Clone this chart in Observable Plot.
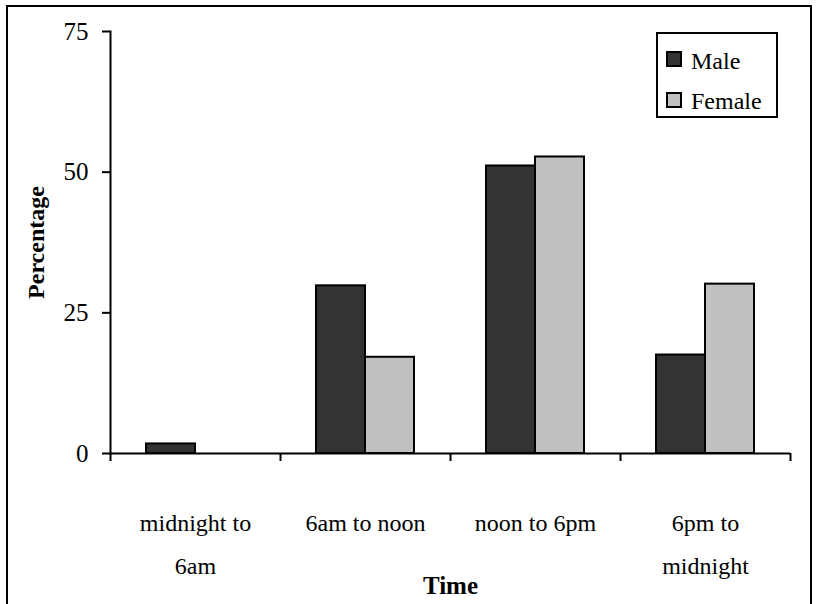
<!DOCTYPE html>
<html><head><meta charset="utf-8">
<script src="https://cdn.jsdelivr.net/npm/d3@7"></script>
<script src="https://cdn.jsdelivr.net/npm/@observablehq/plot@0.6"></script>
<style>
body{margin:0;background:#fff;}
#wrap{position:relative;width:817px;height:604px;overflow:hidden;font-family:"Liberation Serif","Times New Roman",serif;}
#border{position:absolute;left:6px;top:5px;width:802px;height:700px;border:2px solid #000;border-bottom:none;}
#chart{position:absolute;left:0;top:0;}
#legend{position:absolute;left:656px;top:32px;width:118px;height:82px;border:2px solid #000;background:#fff;box-sizing:content-box;}
.sw{position:absolute;width:16px;height:16px;box-sizing:border-box;border:2px solid #000;}
.lt{position:absolute;font-size:24px;line-height:24px;color:#000;white-space:nowrap;}
</style></head>
<body><div id="wrap"><div id="border"></div><div id="chart"></div><div id="legend"></div></div>
<script>
const times = ["midnight to 6am", "6am to noon", "noon to 6pm", "6pm to midnight"];
const timeLabels = ["midnight to\n6am", "6am to noon", "noon to 6pm", "6pm to\nmidnight"];
const series = ["Male", "Female"];
const maleValues = [1.7, 29.8, 51.1, 17.5];
const femaleValues = [0, 17.1, 52.7, 30.1];
const seriesColors = ["#333333", "#c0c0c0"];
const yTicks = [0, 25, 50, 75];

const data = times.flatMap((t, i) => [
  {time: t, sex: "Male", value: maleValues[i]},
  {time: t, sex: "Female", value: femaleValues[i]}
]);

const W = 817, H = 604, mL = 110, mR = 27, mT = 31, mB = 151;
const bw = (W - mL - mR) / times.length;
const font = "'Liberation Serif', 'Times New Roman', serif";

const chart = Plot.plot({
  width: W, height: H,
  marginLeft: mL, marginRight: mR, marginTop: mT, marginBottom: mB,
  style: {fontFamily: font, fontSize: "24px", color: "#000", background: "transparent"},
  fx: {domain: times, padding: 0, label: null},
  x: {domain: series, paddingInner: 0, paddingOuter: 0.73, axis: null},
  y: {domain: [0, 75], label: null},
  color: {domain: series, range: seriesColors},
  marks: [
    Plot.barY(data, {fx: "time", x: "sex", y: "value", fill: "sex", stroke: "#000", strokeWidth: 2}),
    Plot.ruleY([0], {stroke: "#000", strokeWidth: 2}),
    Plot.frame({anchor: "left", facetAnchor: "left", stroke: "#000", strokeWidth: 2}),
    Plot.axisY({ticks: yTicks, tickSize: 8, tickPadding: 14, strokeWidth: 2, fontSize: 25, label: null}),
    Plot.axisY({ticks: [], label: "Percentage", labelArrow: "none", labelAnchor: "center", labelOffset: 84, dy: -7, fontWeight: "bold", fontSize: 24}),
    Plot.axisFx({anchor: "bottom", tickSize: 8, tickFormat: () => "", dx: -bw / 2, strokeWidth: 2, label: null}),
    Plot.axisFx({anchor: "bottom", ticks: [times[times.length - 1]], tickSize: 8, tickFormat: () => "", dx: bw / 2, strokeWidth: 2, label: null}),
    Plot.axisFx({anchor: "bottom", tickSize: 0, tickPadding: 47, tickFormat: (d) => timeLabels[times.indexOf(d)], lineHeight: 1.78, fontSize: 24, label: null}),
    Plot.axisFx({anchor: "bottom", ticks: [], label: "Time", labelArrow: "none", labelAnchor: "center", labelOffset: 140, fontWeight: "bold", fontSize: 25})
  ]
});
document.getElementById("chart").appendChild(chart);

// legend built from the color scale
const color = chart.scale("color");
const legend = document.getElementById("legend");
series.forEach((s, i) => {
  const sw = document.createElement("div");
  sw.className = "sw";
  sw.style.left = "8px";
  sw.style.top = (17 + i * 41) + "px";
  sw.style.background = color.range[i];
  legend.appendChild(sw);
  const t = document.createElement("div");
  t.className = "lt";
  t.style.left = "33px";
  t.style.top = (15 + i * 40) + "px";
  t.textContent = s;
  legend.appendChild(t);
});
</script>
</body></html>
